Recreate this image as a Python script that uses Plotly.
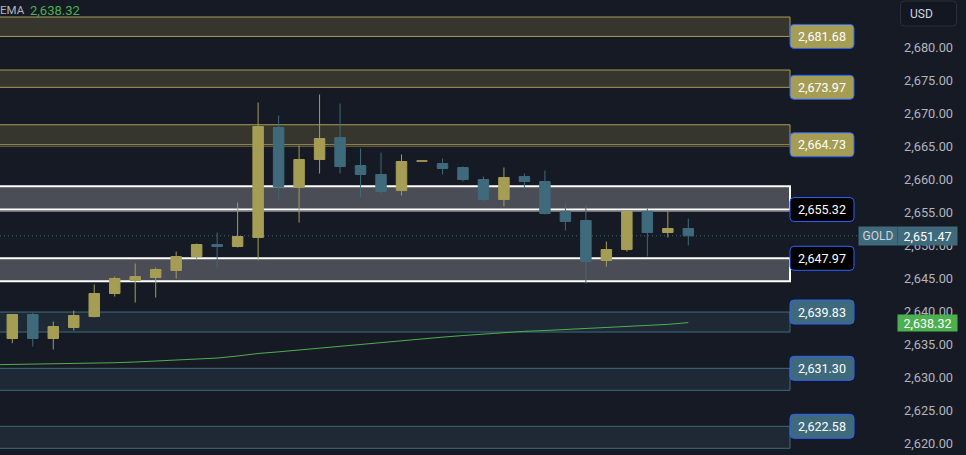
import plotly.graph_objects as go

# ---------------- data ----------------
bar_index = list(range(34))
opens = [2635.91, 2639.55, 2635.91, 2637.58, 2639.24, 2642.73, 2644.70, 2645.15, 2646.21, 2648.33,
         2650.15, 2649.85, 2651.21, 2667.88, 2658.79, 2663.03, 2666.36, 2662.12, 2660.76, 2658.33,
         2662.78, 2662.42, 2661.82, 2660.00, 2656.97, 2660.45, 2659.70, 2655.15, 2653.79, 2647.73,
         2649.39, 2655.15, 2651.97, 2652.58]
highs = [2639.55, 2639.85, 2638.48, 2640.15, 2644.09, 2645.30, 2647.27, 2646.67, 2649.09, 2650.30,
         2651.97, 2656.52, 2671.67, 2669.70, 2665.15, 2672.88, 2671.52, 2664.70, 2664.09, 2663.79,
         2662.85, 2663.18, 2661.97, 2660.45, 2661.82, 2660.91, 2661.36, 2656.36, 2656.06, 2650.61,
         2655.30, 2655.61, 2655.30, 2654.09]
lows = [2635.20, 2634.70, 2634.24, 2637.12, 2639.10, 2642.27, 2641.36, 2642.12, 2645.00, 2647.88,
        2646.52, 2649.70, 2647.73, 2656.97, 2653.48, 2660.91, 2660.91, 2657.27, 2657.88, 2657.58,
        2662.75, 2660.76, 2659.70, 2656.67, 2655.91, 2658.48, 2654.70, 2652.27, 2644.24, 2646.82,
        2649.09, 2648.33, 2651.21, 2650.00]
closes = [2639.55, 2635.91, 2637.73, 2639.39, 2642.73, 2645.00, 2645.30, 2646.36, 2648.33, 2650.15,
          2649.85, 2651.36, 2668.03, 2658.94, 2663.03, 2666.21, 2661.97, 2660.76, 2658.18, 2662.73,
          2662.82, 2661.67, 2660.00, 2656.97, 2660.30, 2659.70, 2654.85, 2653.64, 2647.58, 2649.39,
          2655.15, 2651.97, 2652.58, 2651.47]

ema_index = list(range(-1, 34))
ema = [2631.93, 2631.97, 2632.00, 2632.05, 2632.09, 2632.15, 2632.24, 2632.35, 2632.48, 2632.62,
       2632.79, 2632.95, 2633.26, 2633.64, 2633.89, 2634.17, 2634.47, 2634.77, 2635.08, 2635.33,
       2635.61, 2635.86, 2636.12, 2636.36, 2636.59, 2636.82, 2637.00, 2637.12, 2637.27, 2637.42,
       2637.56, 2637.70, 2637.85, 2638.05, 2638.32]

ytick_values = [2620, 2625, 2630, 2635, 2640, 2645, 2650, 2655, 2660, 2665, 2670, 2675, 2680]

zone_bottoms = [2681.68, 2673.97, 2665.27, 2655.45, 2644.58, 2636.89, 2628.06, 2619.27]
zone_tops = [2684.62, 2676.59, 2668.30, 2658.97, 2648.06, 2639.92, 2631.39, 2622.61]
zone_kinds = ["olive", "olive", "olive", "white", "white", "blue", "blue", "blue"]
zone_label_values = [2681.68, 2673.97, 2664.73, 2655.32, 2647.97, 2639.83, 2631.30, 2622.58]
zone_label_edge = ["bottom", "bottom", "bottom", "bottom", "top", "top", "top", "top"]

symbol = "GOLD"
currency = "USD"
last_price = closes[-1]

# ---------------- style ----------------
BG = "#161a25"
UP = "#a69d55"
DOWN = "#3f6a7b"
FONT = "Roboto"
W, H = 966, 455
PLOT_W = 858
BAR_PX = 20.485
FIRST_PX = 12.3

def px_to_x(px):
    return (px - FIRST_PX) / BAR_PX

Y_MIN, Y_MAX = 2618.26, 2687.20

zone_style = {
    "olive": dict(fill="#36362f", line="#a69d55", lw=1, lab_bg="#a69d55"),
    "white": dict(fill="#4a4c56", line="#ffffff", lw=2, lab_bg="#000000"),
    "blue": dict(fill="#1e2935", line="#3f6a7b", lw=1, lab_bg="#3f6a7b"),
}

def rrect(w, h, r):
    x0, x1, y0, y1 = -w / 2, w / 2, -h / 2, h / 2
    return (f"M{x0+r},{y0} L{x1-r},{y0} Q{x1},{y0} {x1},{y0+r} L{x1},{y1-r} Q{x1},{y1} {x1-r},{y1} "
            f"L{x0+r},{y1} Q{x0},{y1} {x0},{y1-r} L{x0},{y0+r} Q{x0},{y0} {x0+r},{y0} Z")

fig = go.Figure()

fig.add_trace(go.Candlestick(
    x=bar_index, open=opens, high=highs, low=lows, close=closes,
    increasing=dict(line=dict(color=UP, width=1), fillcolor=UP),
    decreasing=dict(line=dict(color=DOWN, width=1), fillcolor=DOWN),
    whiskerwidth=0, hoverinfo="skip", showlegend=False,
))

fig.add_trace(go.Scatter(
    x=ema_index, y=ema, mode="lines", line=dict(color="#4caf50", width=1),
    hoverinfo="skip", showlegend=False,
))

shapes = []
annotations = []

zone_x0 = px_to_x(-10)
zone_x1 = px_to_x(790)
for b, t, k in zip(zone_bottoms, zone_tops, zone_kinds):
    st = zone_style[k]
    shapes.append(dict(type="rect", xref="x", yref="y", x0=zone_x0, x1=zone_x1, y0=b, y1=t,
                       fillcolor=st["fill"], line=dict(color=st["line"], width=st["lw"]), layer="below"))

# secondary faint lines under some zones
shapes.append(dict(type="line", xref="x", yref="y", x0=zone_x0, x1=zone_x1, y0=2665.0, y1=2665.0,
                   line=dict(color="#5f5b3a", width=1), layer="below"))
shapes.append(dict(type="line", xref="x", yref="y", x0=zone_x0, x1=zone_x1, y0=2655.2, y1=2655.2,
                   line=dict(color="#9a9ca4", width=1), layer="below"))

# last price dotted line
shapes.append(dict(type="line", xref="paper", yref="y", x0=0, x1=1, y0=last_price, y1=last_price,
                   line=dict(color=DOWN, width=1, dash="1px,3px"), layer="below"))

# zone labels
lab_x = px_to_x(822)
for b, t, k, v, e in zip(zone_bottoms, zone_tops, zone_kinds, zone_label_values, zone_label_edge):
    st = zone_style[k]
    yv = b if e == "bottom" else t
    shapes.append(dict(type="path", xref="x", yref="y", xsizemode="pixel", ysizemode="pixel",
                       xanchor=lab_x, yanchor=yv, path=rrect(64, 24, 4),
                       fillcolor=st["lab_bg"], line=dict(color="#2962ff", width=1), layer="above"))
    annotations.append(dict(xref="x", yref="y", x=lab_x, y=yv, text=f"{v:,.2f}", showarrow=False,
                            xanchor="center", yanchor="middle",
                            font=dict(family=FONT, size=12.5, color="#ffffff")))

# right-axis labels
def pxx(px):
    return px / PLOT_W

annotations.append(dict(xref="paper", yref="y", x=pxx(858), y=last_price, text=symbol, showarrow=False,
                        xanchor="left", yanchor="middle", width=38, height=18, bgcolor=DOWN,
                        borderpad=0, font=dict(family=FONT, size=12, color="#d1d4dc")))
annotations.append(dict(xref="paper", yref="y", x=pxx(897), y=last_price, text=f"{last_price:,.2f}",
                        showarrow=False, xanchor="left", yanchor="middle", width=59, height=18,
                        bgcolor=DOWN, borderpad=0, font=dict(family=FONT, size=12.5, color="#ffffff")))
annotations.append(dict(xref="paper", yref="y", x=pxx(897), y=ema[-1], text=f"{ema[-1]:,.2f}",
                        showarrow=False, xanchor="left", yanchor="middle", width=59, height=16,
                        bgcolor="#4caf50", borderpad=0, font=dict(family=FONT, size=12.5, color="#ffffff")))

# currency box
shapes.append(dict(type="path", xref="paper", yref="paper", xsizemode="pixel", ysizemode="pixel",
                   xanchor=pxx(928.5), yanchor=1 - 13.5 / H, path=rrect(56, 25, 4),
                   fillcolor="#131722", line=dict(color="#2a2e39", width=1), layer="above"))
annotations.append(dict(xref="paper", yref="paper", x=pxx(908), y=1 - 13.5 / H, text=currency,
                        showarrow=False, xanchor="left", yanchor="middle",
                        font=dict(family=FONT, size=12, color="#d1d4dc")))

# EMA legend
annotations.append(dict(xref="paper", yref="paper", x=pxx(-1), y=1 - 10 / H, text="EMA",
                        showarrow=False, xanchor="left", yanchor="middle", borderpad=0,
                        font=dict(family=FONT, size=11.5, color="#b2b5be")))
annotations.append(dict(xref="paper", yref="paper", x=pxx(28), y=1 - 10 / H, text=f"{ema[-1]:,.2f}",
                        showarrow=False, xanchor="left", yanchor="middle",
                        font=dict(family=FONT, size=13, color="#4caf50")))

fig.update_layout(
    width=W, height=H,
    margin=dict(l=0, r=W - PLOT_W, t=0, b=0, pad=0),
    paper_bgcolor=BG, plot_bgcolor=BG,
    shapes=shapes, annotations=annotations,
    boxgap=0.27,
    xaxis=dict(range=[px_to_x(0), px_to_x(PLOT_W)], visible=False, rangeslider=dict(visible=False),
               showgrid=False, zeroline=False),
    yaxis=dict(range=[Y_MIN, Y_MAX], side="right", showgrid=False, zeroline=False,
               tickvals=ytick_values, ticktext=[f"{v:,.2f}" for v in ytick_values],
               ticks="", ticklabelstandoff=45, showline=False,
               tickfont=dict(family=FONT, size=12.8, color="#b2b5be")),
    hovermode=False,
)

fig.write_html("out.html")
